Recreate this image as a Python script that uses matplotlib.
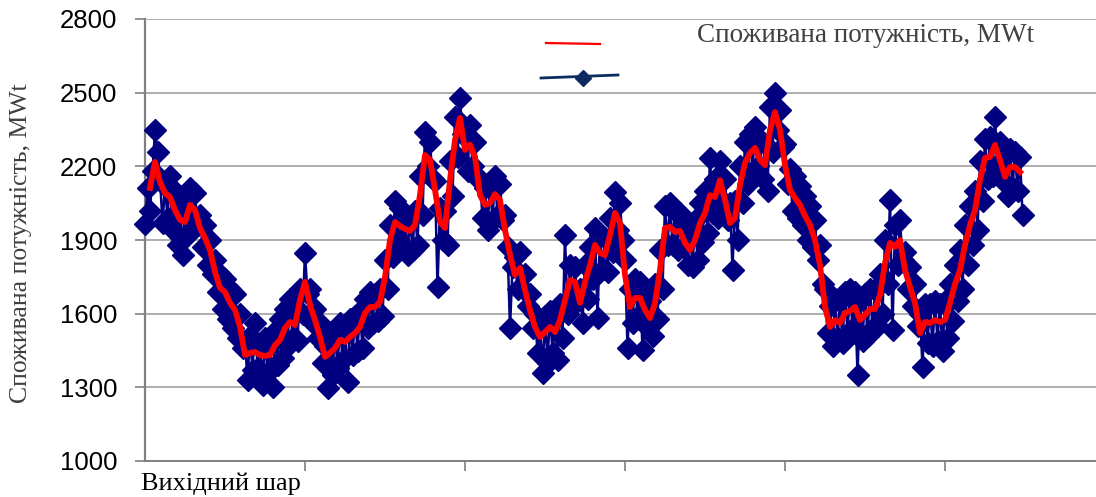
import numpy as np
import matplotlib
matplotlib.use("Agg")
import matplotlib.pyplot as plt
from matplotlib.lines import Line2D

# red curve (network output), one value every 2 steps starting at step 2
red_vals = [
    2112, 2218, 2136, 2091, 2075, 2022, 1982, 1973, 2043, 2022,
    1949, 1908, 1859, 1770, 1705, 1688, 1644, 1615, 1546, 1432,
    1440, 1444, 1432, 1428, 1432, 1472, 1493, 1542, 1566, 1554,
    1656, 1729, 1635, 1574, 1505, 1424, 1440, 1460, 1493, 1485,
    1505, 1521, 1546, 1603, 1627, 1627, 1648, 1749, 1900, 1973,
    1957, 1945, 1937, 1961, 2083, 2246, 2226, 2104, 1973, 1949,
    2144, 2307, 2397, 2267, 2288, 2238, 2083, 2043, 2051, 2087,
    2063, 1941, 1839, 1758, 1786, 1696, 1615, 1546, 1505, 1525,
    1546, 1525, 1574, 1656, 1737, 1729, 1644, 1729, 1798, 1880,
    1847, 1839, 1920, 2010, 1969, 1758, 1627, 1664, 1664, 1615,
    1582, 1644, 1778, 1949, 1953, 1933, 1937, 1888, 1859, 1900,
    1969, 2010, 2083, 2075, 2144, 2063, 1969, 1990, 2124, 2214,
    2254, 2275, 2226, 2205, 2348, 2421, 2348, 2205, 2104, 2071,
    2043, 1998, 1961, 1900, 1798, 1627, 1546, 1574, 1562, 1603,
    1611, 1627, 1574, 1595, 1619, 1619, 1676, 1806, 1888, 1872,
    1900, 1778, 1709, 1644, 1521, 1566, 1562, 1574, 1566, 1574,
    1644, 1721, 1778, 1880, 1961, 2022, 2144, 2234, 2238, 2287,
    2226, 2157, 2197, 2197, 2177,
]

# blue series (measured consumption), one value every step starting at step 0
blue_vals = [
    1965, 2110, 2020, 2180, 2348, 2260, 2150, 1970, 2120, 1990,
    2160, 1940, 2100, 1880, 2060, 1840, 2030, 1920, 2110, 1990,
    2090, 1960, 2000, 1870, 1960, 1800, 1900, 1760, 1820, 1690,
    1760, 1620, 1740, 1580, 1700, 1540, 1680, 1500, 1600, 1460,
    1490, 1330, 1510, 1370, 1560, 1380, 1480, 1310, 1500, 1360,
    1480, 1300, 1530, 1390, 1580, 1420, 1620, 1470, 1660, 1500,
    1610, 1490, 1700, 1600, 1846, 1680, 1700, 1560, 1620, 1500,
    1560, 1400, 1470, 1297, 1510, 1350, 1530, 1380, 1560, 1410,
    1540, 1320, 1580, 1430, 1590, 1450, 1610, 1460, 1660, 1540,
    1690, 1560, 1680, 1570, 1700, 1590, 1820, 1700, 1960, 1830,
    2060, 1900, 2030, 1880, 1990, 1840, 1990, 1860, 2020, 1880,
    2160, 2000, 2340, 2200, 2300, 2150, 2140, 1709, 2030, 1900,
    2020, 1880, 2220, 2080, 2400, 2240, 2478, 2330, 2320, 2180,
    2370, 2200, 2300, 2150, 2150, 1990, 2110, 1940, 2130, 1980,
    2160, 2000, 2130, 1980, 2000, 1870, 1542, 1790, 1830, 1700,
    1850, 1700, 1760, 1630, 1680, 1540, 1600, 1440, 1560, 1358,
    1590, 1400, 1610, 1440, 1580, 1410, 1640, 1500, 1920, 1600,
    1800, 1670, 1790, 1650, 1700, 1560, 1800, 1660, 1870, 1740,
    1950, 1582, 1920, 1780, 1910, 1770, 1990, 1850, 2096, 1940,
    2050, 1900, 1820, 1460, 1700, 1560, 1740, 1590, 1730, 1452,
    1680, 1540, 1650, 1510, 1720, 1580, 1860, 1700, 2040, 1880,
    2051, 1880, 2020, 1860, 2010, 1870, 1960, 1800, 1930, 1790,
    1980, 1820, 2050, 1890, 2100, 1930, 2234, 2010, 2150, 1990,
    2220, 2060, 2150, 1980, 2050, 1778, 2060, 1900, 2200, 2050,
    2300, 2130, 2330, 2180, 2360, 2200, 2310, 2150, 2290, 2100,
    2440, 2260, 2499, 2350, 2430, 2280, 2290, 2130, 2190, 2020,
    2160, 1990, 2120, 1960, 2080, 1900, 2040, 1870, 1980, 1820,
    1880, 1720, 1700, 1520, 1630, 1470, 1660, 1500, 1650, 1480,
    1690, 1520, 1700, 1540, 1690, 1350, 1650, 1490, 1680, 1510,
    1700, 1540, 1700, 1550, 1760, 1600, 1900, 1720, 2063, 1534,
    1960, 1800, 1980, 1820, 1850, 1700, 1790, 1630, 1720, 1550,
    1600, 1383, 1640, 1480, 1640, 1470, 1650, 1490, 1640, 1450,
    1650, 1500, 1720, 1570, 1800, 1650, 1860, 1700, 1960, 1800,
    2040, 1880, 2100, 1940, 2220, 2060, 2310, 2150, 2320, 2160,
    2401, 2200, 2300, 2140, 2240, 2080, 2270, 2110, 2260, 2100,
    2240, 2002,
]

y_ticks = [1000, 1300, 1600, 1900, 2200, 2500, 2800]
x_label = "Вихідний шар"
series_label = "Споживана потужність, MWt"

red_x = 2 + 2 * np.arange(len(red_vals))
blue_x = np.arange(len(blue_vals))

fig = plt.figure(figsize=(10.96, 4.97), dpi=100)
ax = fig.add_axes([145 / 1096, 1 - 461 / 497, 1 - 145 / 1096, (461 - 19) / 497])

ax.plot(blue_x, blue_vals, color="#000080", lw=1.8, marker="D", ms=11,
        mec="#000080", mew=1, clip_on=False, zorder=3)
ax.plot(red_x, red_vals, color="#ff0000", lw=4.2, solid_joinstyle="round", zorder=4)

ax.set_ylim(1000, 2800)
ax.set_xlim(0, (1096 - 145) / 2.5)
ax.set_yticks(y_ticks)
ax.set_yticklabels([str(v) for v in y_ticks], fontfamily="Liberation Sans", fontsize=18.5)
ax.tick_params(axis="y", length=7, width=1.2, color="#808080", pad=13)

ax.set_xticks([64, 128, 192, 256, 320])
ax.set_xticklabels([])
ax.set_xticks([30.4], minor=True)
ax.set_xticklabels([x_label], minor=True, fontfamily="Liberation Serif", fontsize=19)
ax.tick_params(axis="x", which="major", length=7, width=1.2, color="#808080")
ax.tick_params(axis="x", which="minor", length=0, pad=8)

ax.grid(axis="y", color="#999999", lw=1.1)
ax.set_axisbelow(True)
for s in ["top", "right"]:
    ax.spines[s].set_visible(False)
ax.spines["left"].set_color("#808080")
ax.spines["left"].set_linewidth(1.6)
ax.spines["bottom"].set_color("#808080")
ax.spines["bottom"].set_linewidth(1.4)

fig.text(21 / 1096, 1 - 243 / 497, series_label, rotation=90, ha="center", va="center",
         fontfamily="Liberation Serif", fontsize=18.5, color="#404040")

# legend, drawn by hand like the original
fig.add_artist(Line2D([546 / 1096, 600 / 1096], [1 - 43 / 497, 1 - 44 / 497],
                      color="#ff0000", lw=1.6))
fig.add_artist(Line2D([541 / 1096, 618 / 1096], [1 - 78 / 497, 1 - 75 / 497],
                      color="#0d2b60", lw=2))
fig.add_artist(Line2D([583 / 1096], [1 - 78 / 497], color="#0d2b60", marker="D", ms=8, lw=0))
fig.text(697 / 1096, 1 - 35 / 497, series_label, ha="left", va="center",
         fontfamily="Liberation Serif", fontsize=19.5, color="#404040")

fig.savefig("out.png", dpi=100)
